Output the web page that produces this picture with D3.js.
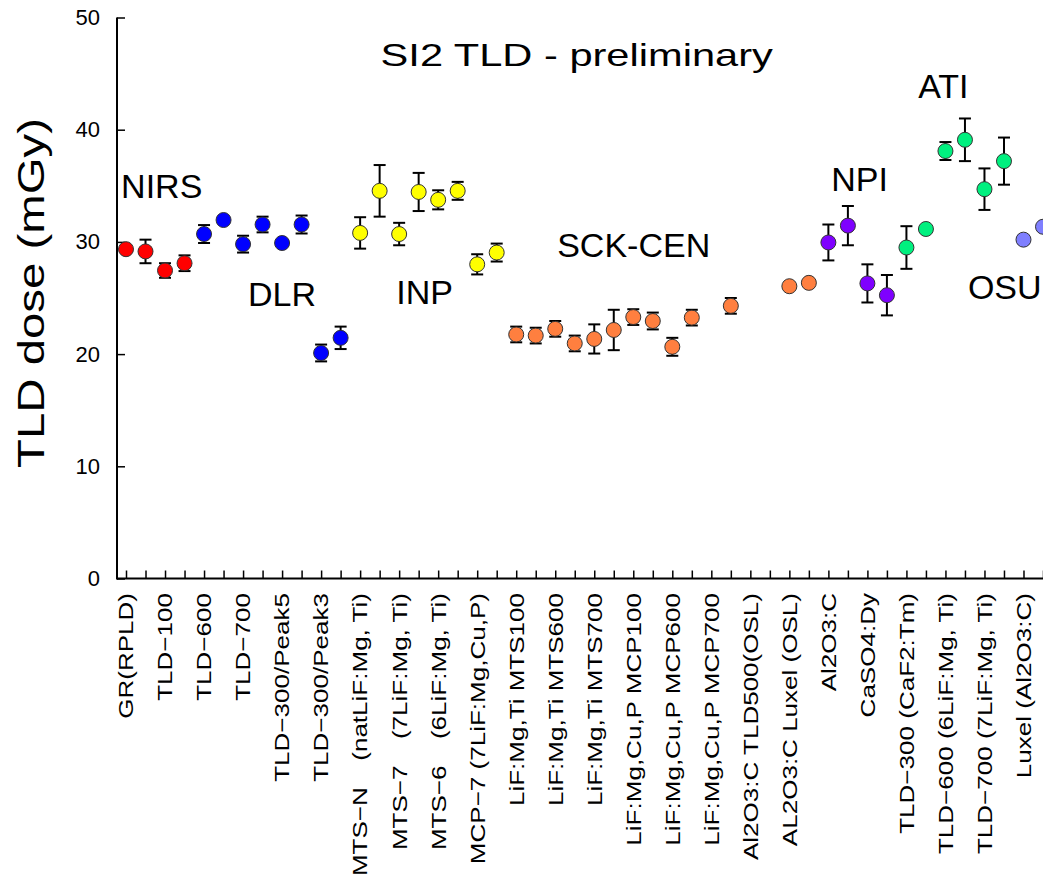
<!DOCTYPE html>
<html>
<head>
<meta charset="utf-8">
<script src="https://cdn.jsdelivr.net/npm/d3@7"></script>
<style>
  html, body { margin: 0; padding: 0; background: #fff; }
  svg { display: block; }
  text { font-family: "Liberation Sans", Arial, sans-serif; fill: #000; }
</style>
</head>
<body>
<div id="chart"></div>
<script>
// ---------------- data ----------------
const categories = [
  "GR(RPLD)", "", "TLD−100", "", "TLD−600", "", "TLD−700", "",
  "TLD−300/Peak5", "", "TLD−300/Peak3", "",
  "MTS−N\u3000(natLiF:Mg, Ti)", "", "MTS−7\u3000(7LiF:Mg, Ti)", "",
  "MTS−6\u3000(6LiF:Mg, Ti)", "", "MCP−7 (7LiF:Mg,Cu,P)", "",
  "LiF:Mg,Ti MTS100", "", "LiF:Mg,Ti MTS600", "", "LiF:Mg,Ti MTS700", "",
  "LiF:Mg,Cu,P MCP100", "", "LiF:Mg,Cu,P MCP600", "", "LiF:Mg,Cu,P MCP700", "",
  "Al2O3:C TLD500(OSL)", "", "AL2O3:C Luxel (OSL)", "",
  "Al2O3:C", "", "CaSO4:Dy", "",
  "TLD−300 (CaF2:Tm)", "", "TLD−600 (6LiF:Mg, Ti)", "", "TLD−700 (7LiF:Mg, Ti)", "",
  "Luxel (Al2O3:C)", ""
];

const dose = [
  29.35, 29.15, 27.45, 28.1,
  30.7, 31.95, 29.8, 31.55, 29.9, 31.55, 20.1, 21.45,
  30.8, 34.55, 30.7, 34.45, 33.75, 34.55, 28.0, 29.05,
  21.75, 21.65, 22.25, 20.95, 21.35, 22.15, 23.3, 22.95, 20.65, 23.25, null, 24.3, null, null, 26.05, 26.35,
  29.95, 31.45, 26.3, 25.25,
  29.5, 31.15, 38.1, 39.1, 34.7, 37.2,
  30.2, 31.35
];

const doseErr = [
  0, 1.05, 0.65, 0.7,
  0.8, 0, 0.75, 0.7, 0, 0.8, 0.75, 1.0,
  1.4, 2.3, 1.0, 1.7, 0.85, 0.8, 0.9, 0.8,
  0.7, 0.7, 0.7, 0.7, 1.3, 1.8, 0.7, 0.75, 0.8, 0.7, 0, 0.7, 0, 0, 0, 0,
  1.6, 1.75, 1.7, 1.8,
  1.9, 0, 0.8, 1.9, 1.85, 2.1,
  0, 0
];

const institute = [
  "NIRS","NIRS","NIRS","NIRS",
  "DLR","DLR","DLR","DLR","DLR","DLR","DLR","DLR",
  "INP","INP","INP","INP","INP","INP","INP","INP",
  "SCK-CEN","SCK-CEN","SCK-CEN","SCK-CEN","SCK-CEN","SCK-CEN","SCK-CEN","SCK-CEN",
  "SCK-CEN","SCK-CEN","SCK-CEN","SCK-CEN","SCK-CEN","SCK-CEN","SCK-CEN","SCK-CEN",
  "NPI","NPI","NPI","NPI",
  "ATI","ATI","ATI","ATI","ATI","ATI",
  "OSU","OSU"
];

// group-name annotations, in data coordinates (category index, dose)
const annoNames = ["NIRS", "DLR", "INP", "SCK-CEN", "NPI", "ATI", "OSU"];
const annoIndex = [-0.25, 6.25, 13.85, 22.1, 36.15, 40.6, 43.15];
const annoDose  = [33.95, 24.3, 24.5, 28.65, 34.55, 42.8, 24.9];

const yTicks = [0, 10, 20, 30, 40, 50];
const titleText = "SI2 TLD - preliminary";
const yTitle = "TLD dose (mGy)";

// ---------------- styles ----------------
const colors = {
  "NIRS": "#ff0000", "DLR": "#0000ff", "INP": "#ffff00", "SCK-CEN": "#ff7f3f",
  "NPI": "#7f00ff", "ATI": "#00f07f", "OSU": "#7f7fff"
};

const W = 1043, H = 881;
const axisX = 117;

const svg = d3.select("#chart").append("svg")
  .attr("width", W).attr("height", H);
svg.append("rect").attr("width", W).attr("height", H).attr("fill", "#fff");

const x = d3.scaleLinear().domain([0, 47]).range([126, 1043]);
const y = d3.scaleLinear().domain([0, 50]).range([578.5, 17.5]);

// y axis
const gy = svg.append("g").attr("transform", `translate(${axisX},0)`)
  .call(d3.axisLeft(y).tickValues(yTicks).tickSizeInner(-8).tickSizeOuter(0).tickPadding(17));
gy.select(".domain").remove();
gy.selectAll(".tick line").attr("stroke", "#000").attr("stroke-width", 1.5);
gy.selectAll(".tick text").attr("font-size", 22).attr("fill", "#000")
  .attr("font-family", "Liberation Sans, Arial, sans-serif");

// x axis (ticks only)
const gx = svg.append("g").attr("transform", `translate(0,${y(0)})`)
  .call(d3.axisBottom(x).tickValues(d3.range(categories.length)).tickSizeInner(-8).tickSizeOuter(0).tickFormat(""));
gx.select(".domain").remove();
gx.selectAll(".tick line").attr("stroke", "#000").attr("stroke-width", 1.5);

// axis lines
svg.append("line").attr("x1", axisX).attr("x2", axisX).attr("y1", y(50)).attr("y2", y(0) + 1)
  .attr("stroke", "#000").attr("stroke-width", 2);
svg.append("line").attr("x1", axisX).attr("x2", W).attr("y1", y(0)).attr("y2", y(0))
  .attr("stroke", "#000").attr("stroke-width", 2);

// category labels (rotated)
svg.append("g").selectAll("text")
  .data(categories.map((c, i) => ({ c, i })).filter(d => d.c !== ""))
  .join("text")
  .attr("transform", d => `translate(${x(d.i)},593) rotate(-90) scale(1.24,1)`)
  .attr("text-anchor", "end")
  .attr("dy", "0.35em")
  .attr("font-size", 21)
  .text(d => d.c);

// data points
const pts = dose.map((v, i) => ({ i, v, e: doseErr[i], g: institute[i] })).filter(d => d.v !== null);

const eb = svg.append("g").attr("stroke", "#000").attr("stroke-width", 2);
pts.filter(d => d.e > 0).forEach(d => {
  const cx = x(d.i), y1 = y(d.v + d.e), y2 = y(d.v - d.e);
  eb.append("line").attr("x1", cx).attr("x2", cx).attr("y1", y1).attr("y2", y2);
  eb.append("line").attr("x1", cx - 6).attr("x2", cx + 6).attr("y1", y1).attr("y2", y1);
  eb.append("line").attr("x1", cx - 6).attr("x2", cx + 6).attr("y1", y2).attr("y2", y2);
});

svg.append("g").selectAll("circle")
  .data(pts).join("circle")
  .attr("cx", d => x(d.i)).attr("cy", d => y(d.v)).attr("r", 7.5)
  .attr("fill", d => colors[d.g])
  .attr("stroke", "#333").attr("stroke-width", 1);

// group annotations
svg.append("g").selectAll("text")
  .data(annoNames.map((n, k) => ({ n, k })))
  .join("text")
  .attr("x", d => x(annoIndex[d.k])).attr("y", d => y(annoDose[d.k]))
  .attr("font-size", 34)
  .text(d => d.n);

// title
svg.append("text")
  .attr("transform", "translate(576.7,66) scale(1.3,1)")
  .attr("text-anchor", "middle").attr("font-size", 32)
  .text(titleText);

// y axis title
svg.append("text")
  .attr("transform", "translate(44,293) rotate(-90) scale(1.28,1)")
  .attr("text-anchor", "middle").attr("font-size", 37)
  .text(yTitle);
</script>
</body>
</html>
